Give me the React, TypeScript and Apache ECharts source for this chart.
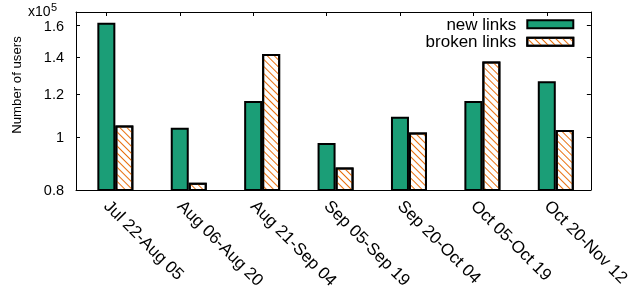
import React, { useEffect, useRef } from 'react';
import * as echarts from 'echarts';

const categories = [
  'Jul 22-Aug 05',
  'Aug 06-Aug 20',
  'Aug 21-Sep 04',
  'Sep 05-Sep 19',
  'Sep 20-Oct 04',
  'Oct 05-Oct 19',
  'Oct 20-Nov 12',
];
const newLinks = [162000, 104000, 116500, 97500, 109000, 116500, 126500];
const brokenLinks = [105000, 82500, 142000, 88000, 102000, 137500, 103000];
const yTickValues = [80000, 100000, 120000, 140000, 160000];
const yMin = 80000;
const yMax = 169500;
const xMin = -0.536;
const xMax = 6.478;

export default function App() {
  const ref = useRef<HTMLDivElement>(null);
  useEffect(() => {
    const chart = echarts.init(ref.current!, null, { renderer: 'svg' });
    const font = "'Liberation Sans', Arial, Helvetica, sans-serif";
    const gridLeft = 76;
    const gridRight = 37;
    const gridWidth = 633 - gridLeft - gridRight;
    const pxPerUnit = gridWidth / (xMax - xMin);
    const barW = 18;
    const half = barW / 2 / pxPerUnit;
    const labelShift = 8.5 / pxPerUnit;
    const lg = (v: number) => Math.log10(v / 1e5);
    const lMin = lg(yMin);
    const lMax = lg(yMax);
    const yTickPos = yTickValues.map(lg);
    const idx = categories.map((_, i) => i);
    const green = '#1b9e77';
    const orange = '#e8700f';

    chart.setOption({
      animation: false,
      grid: { left: gridLeft, right: gridRight, top: 12, bottom: 103, containLabel: false },
      legend: {
        data: ['new links', 'broken links'],
        orient: 'vertical',
        right: 58.7,
        top: 15.5,
        align: 'right',
        icon: 'rect',
        itemWidth: 46,
        itemHeight: 8,
        itemGap: 0,
        padding: 0,
        textStyle: { fontSize: 17, fontFamily: font, color: '#000', lineHeight: 17.5, padding: [0, 6, 0, 0] },
      },
      xAxis: [
        {
          type: 'value',
          position: 'bottom',
          min: xMin,
          max: xMax,
          splitLine: { show: false },
          axisLine: { show: true, onZero: false, lineStyle: { color: '#000', width: 1 } },
          axisTick: { show: false },
          axisLabel: {
            customValues: idx.map((i) => i - labelShift),
            formatter: (v: number) => categories[Math.round(v)] ?? '',
            rotate: -45,
            margin: 13,
            fontSize: 17,
            fontFamily: font,
            color: '#000',
          },
        },
        {
          type: 'value',
          position: 'top',
          min: xMin,
          max: xMax,
          splitLine: { show: false },
          axisLine: { show: true, onZero: false, lineStyle: { color: '#000', width: 1 } },
          axisTick: {
            show: true,
            inside: true,
            length: 4,
            customValues: idx.map((i) => i - half),
            lineStyle: { color: '#000', width: 1 },
          },
          axisLabel: { show: false },
        },
      ],
      yAxis: [
        {
          type: 'log',
          logBase: 10,
          min: yMin,
          max: yMax,
          show: false,
          splitLine: { show: false },
        },
        {
          type: 'value',
          position: 'left',
          min: lMin,
          max: lMax,
          splitLine: { show: false },
          axisLine: { show: true, onZero: false, lineStyle: { color: '#000', width: 1 } },
          axisTick: {
            show: true,
            inside: true,
            length: 4,
            customValues: yTickPos,
            lineStyle: { color: '#000', width: 1 },
          },
          axisLabel: {
            customValues: yTickPos,
            formatter: (v: number) => String(Math.round(Math.pow(10, v) * 10) / 10),
            margin: 12,
            fontSize: 14.5,
            fontFamily: font,
            color: '#000',
          },
        },
        {
          type: 'value',
          position: 'right',
          min: lMin,
          max: lMax,
          splitLine: { show: false },
          axisLine: { show: true, onZero: false, lineStyle: { color: '#000', width: 1 } },
          axisTick: {
            show: true,
            inside: true,
            length: 4,
            customValues: yTickPos,
            lineStyle: { color: '#000', width: 1 },
          },
          axisLabel: { show: false },
        },
      ],
      series: [
        {
          name: 'new links',
          type: 'bar',
          xAxisIndex: 0,
          yAxisIndex: 0,
          barWidth: barW,
          barGap: '0%',
          clip: true,
          data: newLinks.map((v, i) => [i, v]),
          itemStyle: { color: green, borderColor: '#000', borderWidth: 2 },
        },
        {
          name: 'broken links',
          type: 'bar',
          xAxisIndex: 0,
          yAxisIndex: 0,
          barWidth: barW,
          barGap: '0%',
          clip: true,
          data: brokenLinks.map((v, i) => [i, v]),
          itemStyle: {
            color: '#fff',
            borderColor: '#000',
            borderWidth: 2,
            decal: {
              symbol: 'rect',
              symbolSize: 1,
              dashArrayX: [1, 0],
              dashArrayY: [1, 3.3],
              rotation: Math.PI / 4,
              color: orange,
            },
          },
        },
      ],
      graphic: [
        {
          type: 'text',
          x: 16,
          y: 85,
          rotation: Math.PI / 2,
          style: {
            text: 'Number of users',
            fontSize: 13.2,
            fontFamily: font,
            fill: '#000',
            align: 'center',
            verticalAlign: 'middle',
          },
        },
        {
          type: 'text',
          x: 28,
          y: 18,
          style: {
            text: 'x10',
            fontSize: 14,
            fontFamily: font,
            fill: '#000',
            align: 'left',
            verticalAlign: 'bottom',
          },
        },
        {
          type: 'text',
          x: 51,
          y: 1,
          style: {
            text: '5',
            fontSize: 11,
            fontFamily: font,
            fill: '#000',
            align: 'left',
            verticalAlign: 'top',
          },
        },
      ],
    });
    return () => chart.dispose();
  }, []);
  return <div ref={ref} style={{ position: 'fixed', left: 0, top: 0, width: 633, height: 293 }} />;
}
